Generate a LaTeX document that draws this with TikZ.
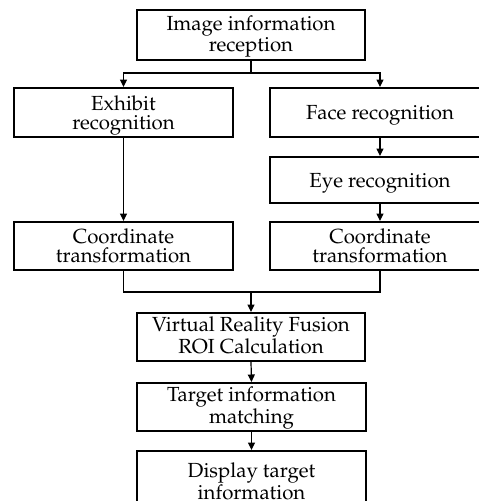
\documentclass[tikz,border=0pt]{standalone}
\usepackage[T1]{fontenc}
\usepackage{mathpazo}
\usetikzlibrary{arrows.meta}

\begin{document}
\begin{tikzpicture}[x=1pt,y=-1pt,
  stepbox/.style={draw, line width=2pt, rectangle, inner sep=0pt, align=center,
    font=\fontsize{20.4}{19}\selectfont, text height=33pt, text depth=0pt},
  onebox/.style={stepbox, text height=14pt},
  link/.style={line width=1.2pt},
  arr/.style={link, -{Triangle[width=7pt,length=7.5pt]}}]
\useasboundingbox (0,0) rectangle (479,501);
\clip (0,0) rectangle (479,501);

\node[stepbox, minimum width=228pt, minimum height=50pt] (top) at (251,35) {Image information\\reception};
\node[stepbox, minimum width=219pt, minimum height=49pt] (exh) at (123.5,112.5) {Exhibit\\recognition};
\node[onebox, minimum width=220pt, minimum height=49pt] (face) at (380,112.5) {Face recognition};
\node[onebox, minimum width=220pt, minimum height=46pt] (eye) at (380,180) {Eye recognition};
\node[stepbox, minimum width=219pt, minimum height=48pt] (cl) at (123.5,246) {Coordinate\\transformation};
\node[stepbox, minimum width=220pt, minimum height=48pt] (cr) at (380,246) {Coordinate\\transformation};
\node[stepbox, minimum width=228pt, minimum height=48pt] (vr) at (251,337) {Virtual Reality Fusion\\ROI Calculation};
\node[stepbox, minimum width=229pt, minimum height=48pt] (tgt) at (251.5,407) {Target information\\matching};
\node[stepbox, minimum width=229pt, minimum height=63pt] (disp) at (251.5,482.5) {Display target\\information};

\coordinate (split) at (251,73);
\coordinate (merge) at (251,292);

% fan-out from the first step
\draw[link] (top.south) -- (split);
\draw[arr] (split) -| (exh.north);
\draw[arr] (split) -| (face.north);

% the two recognition branches
\draw[arr] (exh.south) -- (cl.north);
\draw[arr] (face.south) -- (eye.north);
\draw[arr] (eye.south) -- (cr.north);

% branches join again
\draw[link] (cl.south) |- (merge);
\draw[link] (cr.south) |- (merge);
\draw[arr] (merge) -- (vr.north);

% final chain
\draw[arr] (vr.south) -- (tgt.north);
\draw[arr] (tgt.south) -- (disp.north);
\end{tikzpicture}
\end{document}
